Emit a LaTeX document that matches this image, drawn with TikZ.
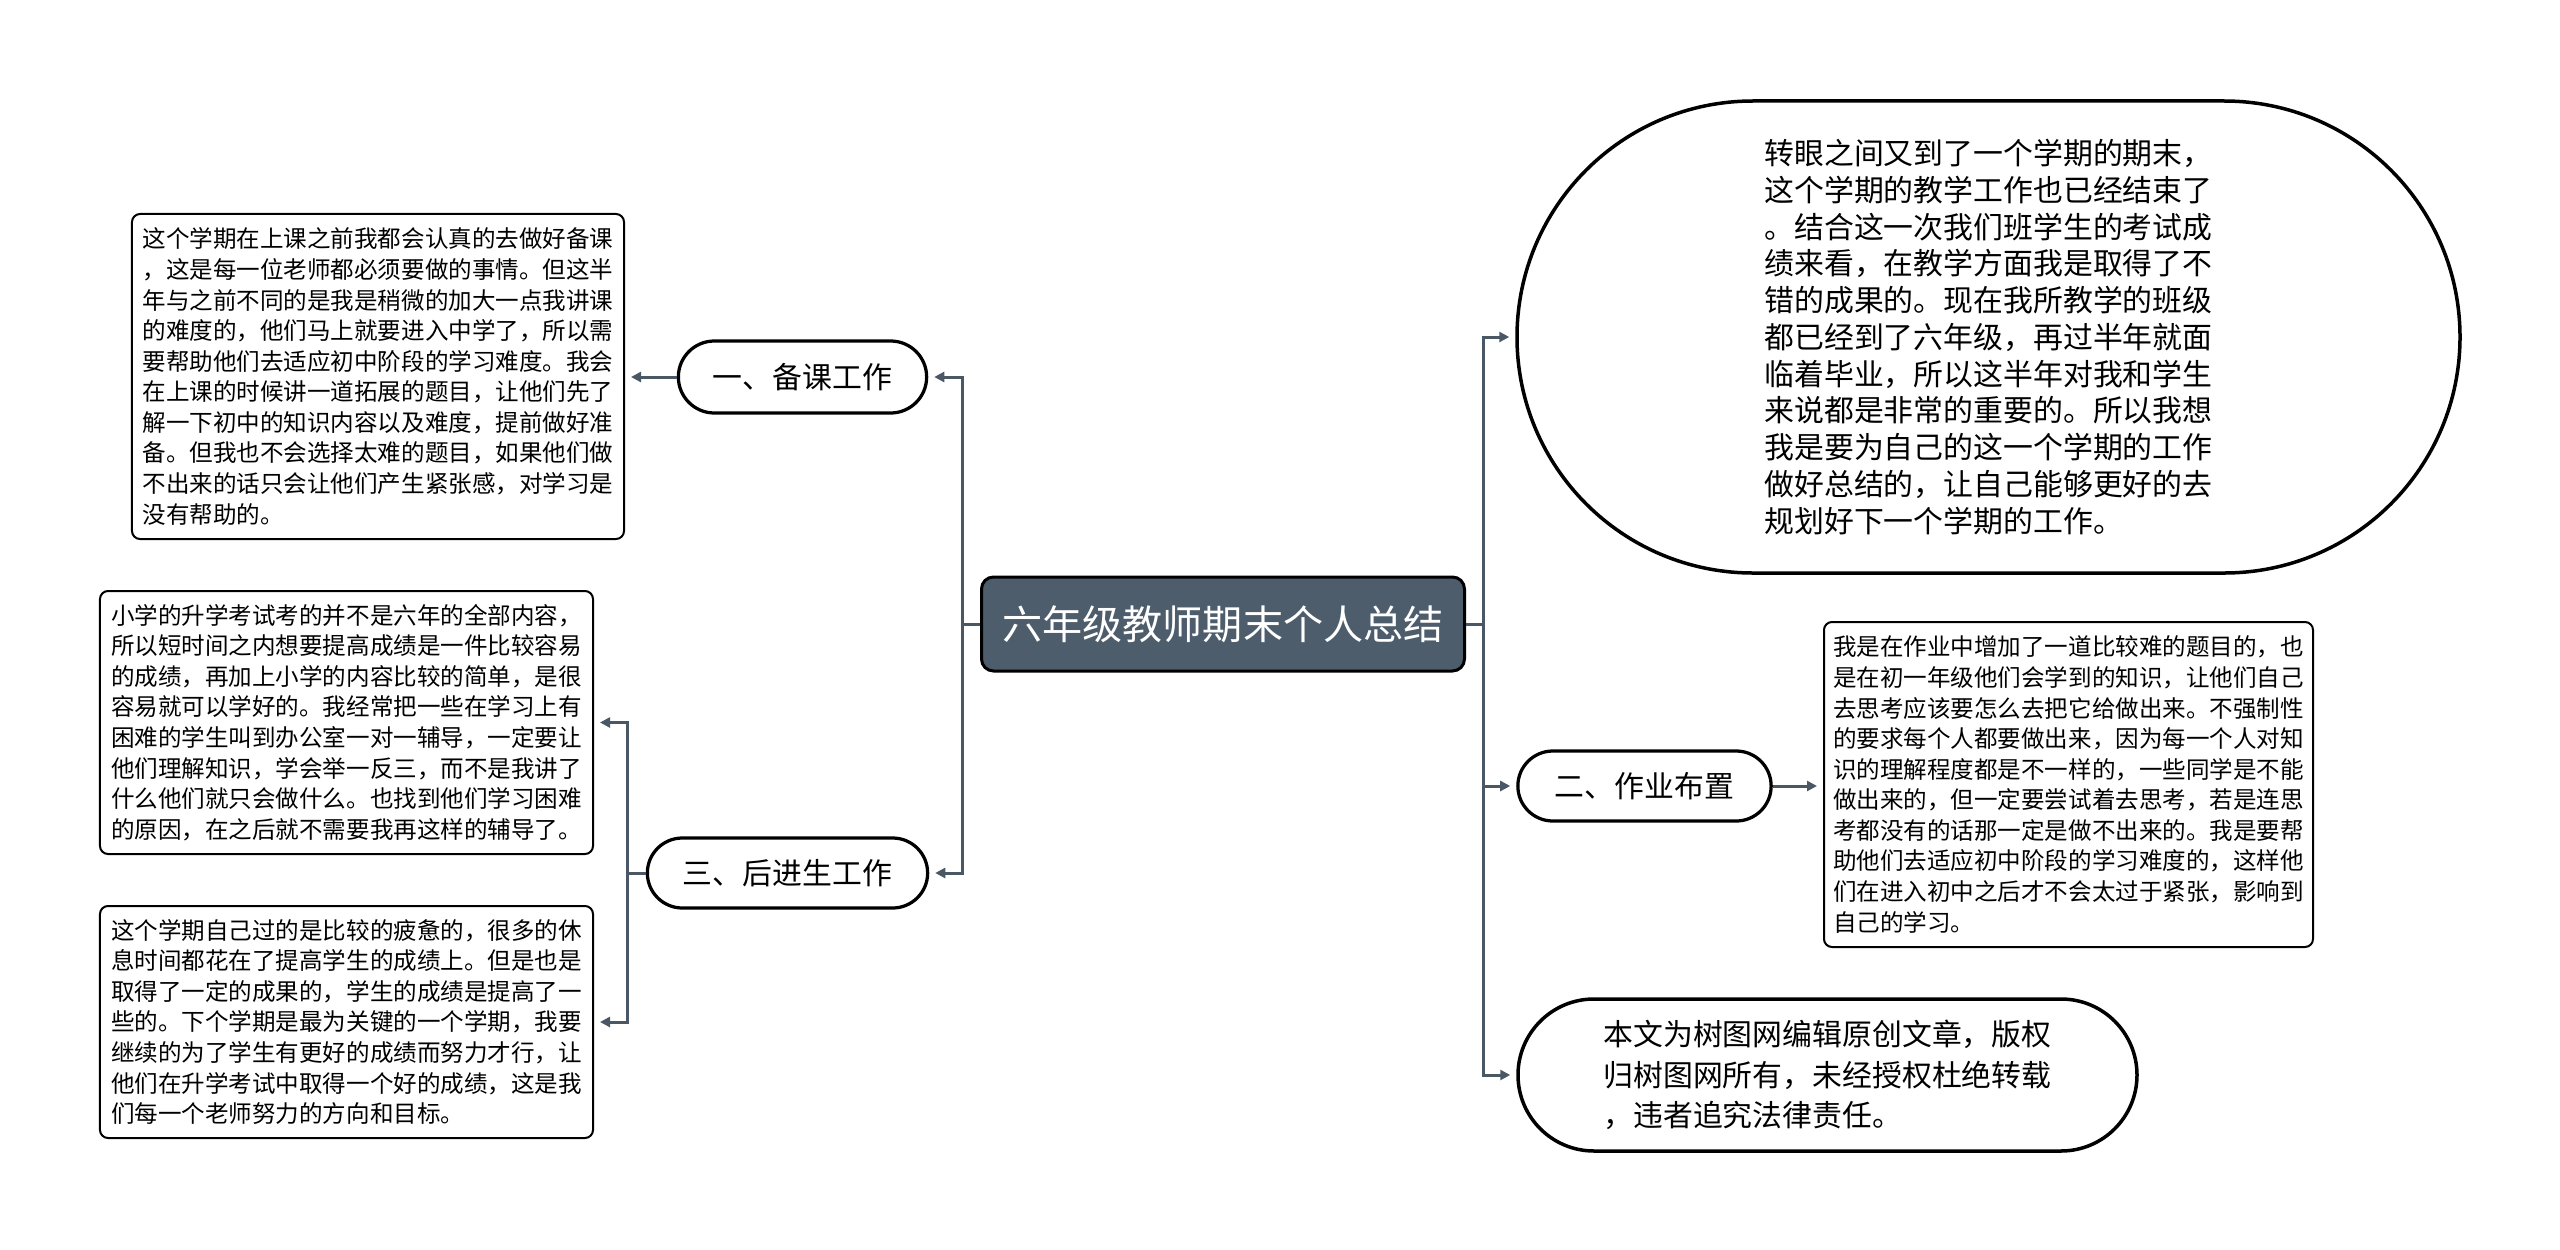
\documentclass[tikz,border=0pt]{standalone}
\usepackage{fontspec}
\usepackage{tikz}
\usepackage{xcolor}
\usetikzlibrary{shapes.misc, arrows.meta, positioning}
\newfontfamily\cjk{Noto Sans CJK SC}
\definecolor{link}{RGB}{74,88,102}
\definecolor{rootfill}{RGB}{77,93,108}

\begin{document}
\begin{tikzpicture}[
  x=0.2mm, y=-0.2mm,
  root/.style={draw, line width=0.6mm, fill=rootfill, rounded corners=2.4mm, text=white, minimum width=96.6mm, minimum height=18.8mm, font=\cjk\fontsize{22.8}{26}\selectfont},
  topic/.style={draw, rounded rectangle, line width=0.65mm, fill=white, minimum height=14mm, font=\cjk\fontsize{17}{20}\selectfont},
  leaf/.style={draw, rounded corners=1.6mm, line width=0.4mm, fill=white, align=left, inner sep=0pt, font=\cjk\fontsize{13.4}{17.4}\selectfont},
  bubble/.style={draw, rounded rectangle, line width=0.7mm, fill=white, align=left, inner sep=0pt, font=\cjk\fontsize{17}{#1}\selectfont},
  arr/.style={-{Triangle[length=2mm, width=2mm]}, line width=0.6mm, color=link, shorten >=1.2mm}
]
\useasboundingbox (0,0) rectangle (2560,1250);

% centre
\node[root] (root) at (1223,624) {六年级教师期末个人总结};

% left side
\node[topic, minimum width=52mm, minimum height=14.4mm] (prep) at (802.5,377) {一、备课工作};
\node[topic, minimum width=58.4mm] (weak) at (787.5,873) {三、后进生工作};

\node[leaf, minimum width=98.4mm, minimum height=65mm] (prepnote) at (378,376.5) {这个学期在上课之前我都会认真的去做好备课\\
，这是每一位老师都必须要做的事情。但这半\\
年与之前不同的是我是稍微的加大一点我讲课\\
的难度的，他们马上就要进入中学了，所以需\\
要帮助他们去适应初中阶段的学习难度。我会\\
在上课的时候讲一道拓展的题目，让他们先了\\
解一下初中的知识内容以及难度，提前做好准\\
备。但我也不会选择太难的题目，如果他们做\\
不出来的话只会让他们产生紧张感，对学习是\\
没有帮助的。};

\node[leaf, minimum width=98.6mm, minimum height=52.6mm] (weaknote1) at (346.5,722.5) {小学的升学考试考的并不是六年的全部内容，\\
所以短时间之内想要提高成绩是一件比较容易\\
的成绩，再加上小学的内容比较的简单，是很\\
容易就可以学好的。我经常把一些在学习上有\\
困难的学生叫到办公室一对一辅导，一定要让\\
他们理解知识，学会举一反三，而不是我讲了\\
什么他们就只会做什么。也找到他们学习困难\\
的原因，在之后就不需要我再这样的辅导了。};

\node[leaf, minimum width=98.6mm, minimum height=46.4mm] (weaknote2) at (346.5,1022) {这个学期自己过的是比较的疲惫的，很多的休\\
息时间都花在了提高学生的成绩上。但是也是\\
取得了一定的成果的，学生的成绩是提高了一\\
些的。下个学期是最为关键的一个学期，我要\\
继续的为了学生有更好的成绩而努力才行，让\\
他们在升学考试中取得一个好的成绩，这是我\\
们每一个老师努力的方向和目标。};

% right side
\node[bubble=20.9, minimum width=188.6mm, minimum height=94.4mm] (intro) at (1988.5,337) {转眼之间又到了一个学期的期末，\\
这个学期的教学工作也已经结束了\\
。结合这一次我们班学生的考试成\\
绩来看，在教学方面我是取得了不\\
错的成果的。现在我所教学的班级\\
都已经到了六年级，再过半年就面\\
临着毕业，所以这半年对我和学生\\
来说都是非常的重要的。所以我想\\
我是要为自己的这一个学期的工作\\
做好总结的，让自己能够更好的去\\
规划好下一个学期的工作。};

\node[topic, minimum width=53mm] (hw) at (1644.5,786) {二、作业布置};

\node[leaf, minimum width=97.8mm, minimum height=65mm] (hwnote) at (2068.5,784.5) {我是在作业中增加了一道比较难的题目的，也\\
是在初一年级他们会学到的知识，让他们自己\\
去思考应该要怎么去把它给做出来。不强制性\\
的要求每个人都要做出来，因为每一个人对知\\
识的理解程度都是不一样的，一些同学是不能\\
做出来的，但一定要尝试着去思考，若是连思\\
考都没有的话那一定是做不出来的。我是要帮\\
助他们去适应初中阶段的学习难度的，这样他\\
们在进入初中之后才不会太过于紧张，影响到\\
自己的学习。};

\node[bubble=23.2, minimum width=123.8mm, minimum height=30.4mm] (copy) at (1827.5,1075) {本文为树图网编辑原创文章，版权\\
归树图网所有，未经授权杜绝转载\\
，违者追究法律责任。};

% connectors
\coordinate (lt) at (962,624);
\coordinate (rt) at (1483,624);
\coordinate (wt) at (627,873);

\draw[arr] (root.west) -- (lt) |- (prep.east);
\draw[arr] (root.west) -- (lt) |- (weak.east);
\draw[arr] (root.east) -- (rt) |- (intro.west);
\draw[arr] (root.east) -- (rt) |- (hw.west);
\draw[arr] (root.east) -- (rt) |- (copy.west);

\draw[arr] (prep.west) -- (prep.west -| prepnote.east);
\draw[arr] (weak.west) -- (wt) |- (weaknote1.east);
\draw[arr] (weak.west) -- (wt) |- (weaknote2.east);
\draw[arr] (hw.east) -- (hw.east -| hwnote.west);
\end{tikzpicture}
\end{document}
